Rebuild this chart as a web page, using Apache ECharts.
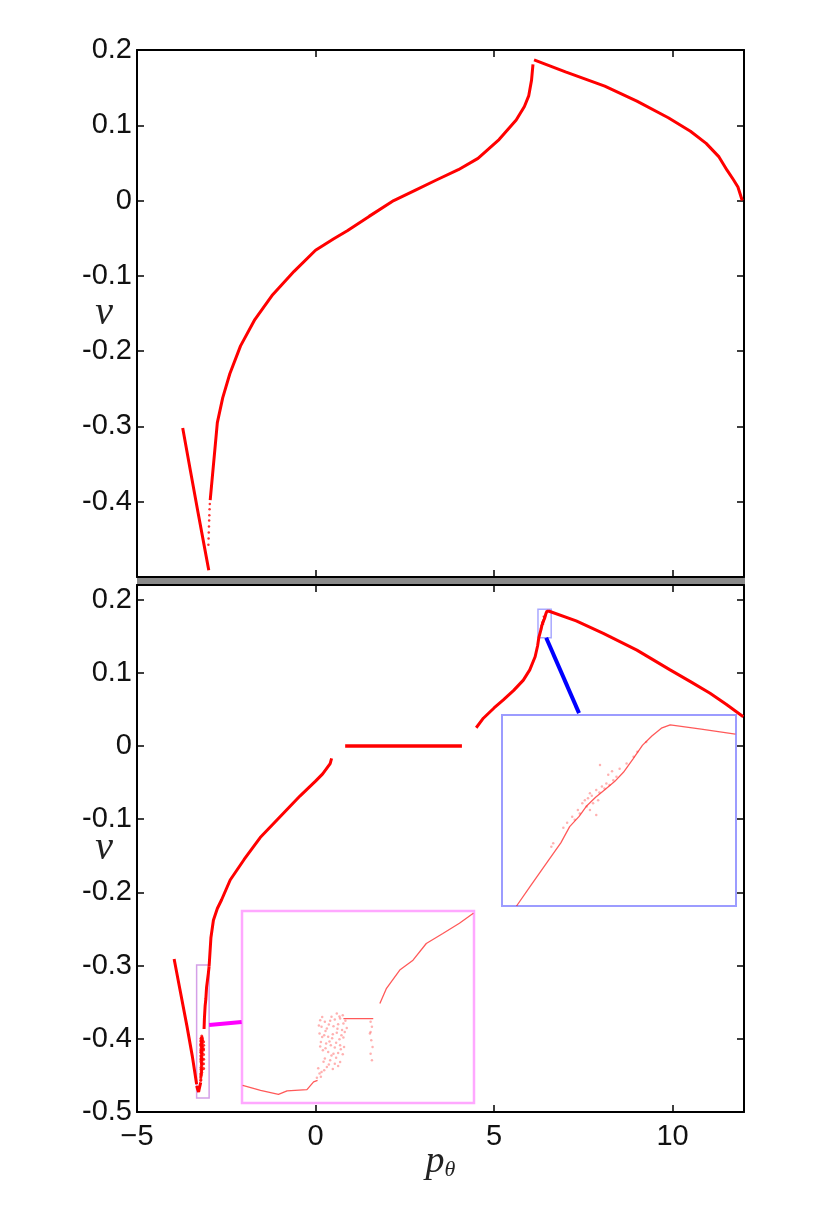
<!DOCTYPE html>
<html>
<head>
<meta charset="utf-8">
<script src="https://cdn.jsdelivr.net/npm/echarts/dist/echarts.min.js"></script>
<style>
  html, body { margin: 0; padding: 0; background: #fff; }
  #chart { width: 830px; height: 1211px; }
</style>
</head>
<body>
<div id="chart"></div>
<script>
// tick values
const xTicks = [-5, 0, 5, 10];
const yTicks = [-0.5, -0.4, -0.3, -0.2, -0.1, 0, 0.1, 0.2];

// ---- top panel ----
const topLeftBranch = [[-3.72, -0.302], [-3.5, -0.36], [-3.3, -0.412], [-3.1, -0.463], [-2.99, -0.491]];
const topDots = [[-3.0, -0.457], [-2.995, -0.449], [-2.99, -0.441], [-2.985, -0.433], [-2.98, -0.425],
  [-2.975, -0.418], [-2.968, -0.41], [-2.96, -0.403]];
const topRising = [[-2.95, -0.398], [-2.82, -0.331], [-2.75, -0.295], [-2.6, -0.262], [-2.4, -0.23],
  [-2.1, -0.193], [-1.7, -0.158], [-1.2, -0.125], [-0.6, -0.094], [0, -0.066], [0.5, -0.051],
  [0.89, -0.04], [1.5, -0.021], [2.19, 0.0], [2.8, 0.014], [3.37, 0.027], [4.0, 0.041],
  [4.55, 0.056], [5.14, 0.081], [5.62, 0.107], [5.85, 0.125], [5.97, 0.139], [6.05, 0.16], [6.09, 0.181]];
const topFalling = [[6.12, 0.187], [7.0, 0.171], [8.1, 0.152], [9.0, 0.132], [9.88, 0.11], [10.5, 0.092],
  [10.94, 0.076], [11.3, 0.058], [11.53, 0.04], [11.7, 0.028], [11.83, 0.018], [11.95, 0.0]];

// ---- bottom panel ----
const botLeftBranch = [[-3.96, -0.291], [-3.8, -0.332], [-3.6, -0.383], [-3.45, -0.424], [-3.33, -0.462]];
// region shown in the magenta zoom
const magLine1 = [[-3.329, -0.4643], [-3.302, -0.469], [-3.275, -0.4728], [-3.262, -0.4695],
  [-3.232, -0.4683], [-3.222, -0.461], [-3.216, -0.4595]];
const magFlat = [[-3.177, -0.401], [-3.132, -0.401]];
const magLine2 = [[-3.122, -0.3867], [-3.112, -0.3723], [-3.092, -0.355], [-3.072, -0.3456],
  [-3.052, -0.3298], [-3.027, -0.3203], [-3.002, -0.3106], [-2.981, -0.3012]];
const magCloud = [[-3.212, -0.4025], [-3.205, -0.4041], [-3.197, -0.4031], [-3.19, -0.4019], [-3.182, -0.4009],
  [-3.178, -0.3978], [-3.21, -0.4088], [-3.202, -0.4104], [-3.192, -0.4082], [-3.185, -0.4063],
  [-3.177, -0.4057], [-3.213, -0.4152], [-3.206, -0.4168], [-3.2, -0.4183], [-3.193, -0.4158],
  [-3.187, -0.4145], [-3.18, -0.4168], [-3.175, -0.4136], [-3.211, -0.4231], [-3.203, -0.4247],
  [-3.196, -0.4262], [-3.188, -0.424], [-3.182, -0.4262], [-3.176, -0.4278], [-3.208, -0.431],
  [-3.2, -0.4326], [-3.192, -0.4342], [-3.185, -0.4335], [-3.178, -0.4348], [-3.205, -0.4389],
  [-3.197, -0.4405], [-3.19, -0.4437], [-3.182, -0.4421], [-3.202, -0.4468], [-3.21, -0.4516],
  [-3.213, -0.4531], [-3.187, -0.3962], [-3.195, -0.3993],
  [-3.209, -0.3995], [-3.199, -0.4065], [-3.186, -0.4105], [-3.179, -0.4118], [-3.214, -0.4075],
  [-3.204, -0.4128], [-3.194, -0.4196], [-3.183, -0.4205], [-3.177, -0.419], [-3.209, -0.4185],
  [-3.198, -0.4228], [-3.19, -0.4285], [-3.181, -0.43], [-3.212, -0.4275], [-3.204, -0.429],
  [-3.195, -0.436], [-3.188, -0.438], [-3.207, -0.442], [-3.199, -0.4445], [-3.185, -0.446],
  [-3.215, -0.448], [-3.206, -0.45], [-3.193, -0.4488], [-3.211, -0.456], [-3.217, -0.457],
  [-3.183, -0.399], [-3.174, -0.403], [-3.172, -0.41],
  [-3.136, -0.4041], [-3.134, -0.4088], [-3.137, -0.4152], [-3.135, -0.4215], [-3.133, -0.4278],
  [-3.136, -0.4342], [-3.134, -0.4405], [-3.136, -0.4136]];
const botRising1 = [[-2.981, -0.3012], [-2.93, -0.262], [-2.86, -0.238], [-2.75, -0.222], [-2.63, -0.21],
  [-2.39, -0.183], [-2.0, -0.155], [-1.55, -0.125], [-1.0, -0.097], [-0.43, -0.068], [0, -0.048],
  [0.2, -0.038], [0.41, -0.024], [0.45, -0.017]];
const botFlat = [[0.83, 0.0], [4.1, 0.0]];
const botRising2 = [[4.5, 0.025], [4.7, 0.038], [5.0, 0.052], [5.26, 0.063], [5.55, 0.076], [5.82, 0.09],
  [6.0, 0.104], [6.15, 0.122], [6.22, 0.137]];
// region shown in the blue zoom
const blueLine = [[6.253, 0.148], [6.274, 0.1519], [6.304, 0.1574], [6.323, 0.1609], [6.337, 0.1642],
  [6.352, 0.1663], [6.363, 0.1683], [6.378, 0.1702], [6.393, 0.1718], [6.408, 0.1734], [6.422, 0.1753],
  [6.437, 0.178], [6.452, 0.1808], [6.467, 0.1827], [6.482, 0.1843], [6.496, 0.185], [6.545, 0.1841],
  [6.599, 0.1831]];
const blueCloud = [[6.361, 0.1696], [6.369, 0.171], [6.379, 0.1717], [6.388, 0.1724], [6.395, 0.173],
  [6.406, 0.1737], [6.411, 0.1744], [6.364, 0.1683], [6.374, 0.169], [6.382, 0.1696], [6.353, 0.1669],
  [6.345, 0.1656], [6.379, 0.1666], [6.369, 0.1676], [6.438, 0.1785], [6.385, 0.1768], [6.311, 0.1608],
  [6.308, 0.1601], [6.357, 0.169], [6.366, 0.17], [6.372, 0.1705], [6.384, 0.1712], [6.392, 0.172],
  [6.4, 0.1727], [6.35, 0.1676], [6.341, 0.1662], [6.333, 0.165], [6.327, 0.164], [6.398, 0.1748],
  [6.404, 0.1755], [6.416, 0.176], [6.427, 0.1771], [6.444, 0.1795], [6.458, 0.1815]];
const botFalling = [[6.6, 0.183], [7.3, 0.171], [8.06, 0.154], [9.0, 0.131], [9.93, 0.104], [10.5, 0.088],
  [11.05, 0.072], [11.5, 0.057], [11.98, 0.04]];

// zoom boxes [xmin, xmax, ymin, ymax] and connector ends
const blueBox = [6.23, 6.6, 0.148, 0.187];
const magBox = [-3.33, -2.98, -0.481, -0.299];
const blueLink = [[6.46, 0.148], [7.38, 0.045]];
const magLink = [[-2.98, -0.381], [-2.07, -0.377]];

const chart = echarts.init(document.getElementById('chart'));
const red = '#ff0000';
const tickFont = { fontFamily: 'Liberation Sans, Arial, sans-serif', fontSize: 29, color: '#111' };

function yFmt(v) { return Math.abs(v) < 1e-9 ? '0' : String(parseFloat(v.toFixed(1))); }
function xFmt(v) { return v < 0 ? '\u2212' + (-v) : String(v); }

function mainX(grid, pos, labels) {
  return {
    type: 'value', gridIndex: grid, position: pos, min: -5, max: 12, interval: 5,
    axisLine: { show: true, onZero: false, lineStyle: { color: '#000', width: 2 } },
    axisTick: { show: true, inside: true, length: 7, lineStyle: { color: '#000', width: 1.5 } },
    axisLabel: Object.assign({ show: labels, margin: 10, showMaxLabel: false, formatter: xFmt }, tickFont),
    splitLine: { show: false },
    name: labels ? '{p|p}{s|\u03b8}' : '', nameLocation: 'middle', nameGap: 31, nameMoveOverlap: false,
    nameTextStyle: { rich: {
      p: { fontFamily: 'Liberation Serif, serif', fontStyle: 'italic', fontSize: 38, color: '#222' },
      s: { fontFamily: 'Liberation Serif, serif', fontStyle: 'italic', fontSize: 22, color: '#222', padding: [16, 0, 0, 0] }
    } }
  };
}
function mainY(grid, pos, max, labels, hideMin) {
  return {
    type: 'value', gridIndex: grid, position: pos, min: -0.5, max: max, interval: 0.1,
    axisLine: { show: true, onZero: false, lineStyle: { color: '#000', width: 2 } },
    axisTick: { show: true, inside: true, length: 7, lineStyle: { color: '#000', width: 1.5 } },
    axisLabel: Object.assign({ show: labels, margin: 5, showMinLabel: !hideMin, showMaxLabel: max === 0.2, formatter: yFmt }, tickFont),
    splitLine: { show: false },
    name: labels ? '\u03bd' : '', nameLocation: 'middle', nameRotate: 0, nameGap: 24, nameMoveOverlap: false,
    nameTextStyle: { fontFamily: 'Liberation Serif, serif', fontStyle: 'italic', fontSize: 40, color: '#222' }
  };
}
function insetAxis(grid, r) {
  return { type: 'value', gridIndex: grid, min: r[0], max: r[1], show: false };
}

function line(data, xi, width, color, z) {
  return { type: 'line', data: data, xAxisIndex: xi, yAxisIndex: xi, showSymbol: false, symbol: 'none',
    lineStyle: { color: color, width: width }, z: z || 2, animation: false };
}
function dots(data, xi, size, color, z) {
  return { type: 'scatter', data: data, xAxisIndex: xi, yAxisIndex: xi, symbol: 'circle', symbolSize: size,
    itemStyle: { color: color }, z: z || 2, animation: false };
}

const insetRed = 'rgba(255,0,0,0.65)';
const cloudRed = 'rgba(255,40,40,0.45)';

chart.setOption({
  backgroundColor: '#fff',
  animation: false,
  grid: [
    { left: 137, top: 50, width: 607, height: 527 },
    { left: 137, top: 585, width: 607, height: 527 },
    { left: 502, top: 715, width: 234, height: 191, show: true, backgroundColor: '#fff',
      borderColor: '#9c9cff', borderWidth: 2, z: 3 },
    { left: 242, top: 911, width: 232, height: 192, show: true, backgroundColor: '#fff',
      borderColor: '#ffa8ff', borderWidth: 2.5, z: 3 }
  ],
  xAxis: [
    mainX(0, 'bottom', false), mainX(0, 'top', false),
    mainX(1, 'bottom', true), mainX(1, 'top', false),
    insetAxis(2, [blueBox[0], blueBox[1]]), insetAxis(3, [magBox[0], magBox[1]])
  ],
  yAxis: [
    mainY(0, 'left', 0.2, true, true), mainY(0, 'right', 0.2, false, true),
    mainY(1, 'left', 0.22, true, false), mainY(1, 'right', 0.22, false, false),
    insetAxis(2, [blueBox[2], blueBox[3]]), insetAxis(3, [magBox[2], magBox[3]])
  ],
  graphic: [
    { type: 'rect', shape: { x: 137, y: 578, width: 608, height: 6 }, style: { fill: '#8a8a8a' }, z: 5 }
  ],
  series: [
    // top panel
    line(topLeftBranch, 0, 3, red),
    dots(topDots, 0, 2.5, red),
    line(topRising, 0, 3, red),
    line(topFalling, 0, 3, red),
    // bottom panel
    line(botLeftBranch, 2, 3, red),
    line(magLine1, 2, 3, red),
    line(magFlat, 2, 3, red),
    line(magLine2, 2, 3, red),
    dots(magCloud, 2, 3, red),
    line(botRising1, 2, 3, red),
    line(botFlat, 2, 3.5, red),
    Object.assign(line(botRising2.concat(blueLine, botFalling), 2, 3, red), {
      markArea: { silent: true, data: [
        [{ coord: [blueBox[0], blueBox[3]], itemStyle: { color: 'rgba(0,0,0,0)', borderColor: '#a8a8ff', borderWidth: 1.5 } },
         { coord: [blueBox[1], blueBox[2]] }],
        [{ coord: [magBox[0], magBox[3]], itemStyle: { color: 'rgba(0,0,0,0)', borderColor: '#d4a0e8', borderWidth: 1.5 } },
         { coord: [magBox[1], magBox[2]] }]
      ] },
      markLine: { silent: true, symbol: 'none', label: { show: false }, data: [
        [{ coord: blueLink[0], lineStyle: { color: '#0000ff', width: 4, type: 'solid' } }, { coord: blueLink[1] }],
        [{ coord: magLink[0], lineStyle: { color: '#ff00ff', width: 4, type: 'solid' } }, { coord: magLink[1] }]
      ] }
    }),
    dots(blueCloud, 2, 2, red),
    // blue inset
    line(blueLine, 4, 1.3, insetRed, 5),
    dots(blueCloud, 4, 2.5, cloudRed, 5),
    // magenta inset
    line(magLine1, 5, 1.3, insetRed, 5),
    line(magFlat, 5, 1.3, insetRed, 5),
    line(magLine2, 5, 1.3, insetRed, 5),
    dots(magCloud, 5, 2.5, cloudRed, 5)
  ]
});
</script>
</body>
</html>
